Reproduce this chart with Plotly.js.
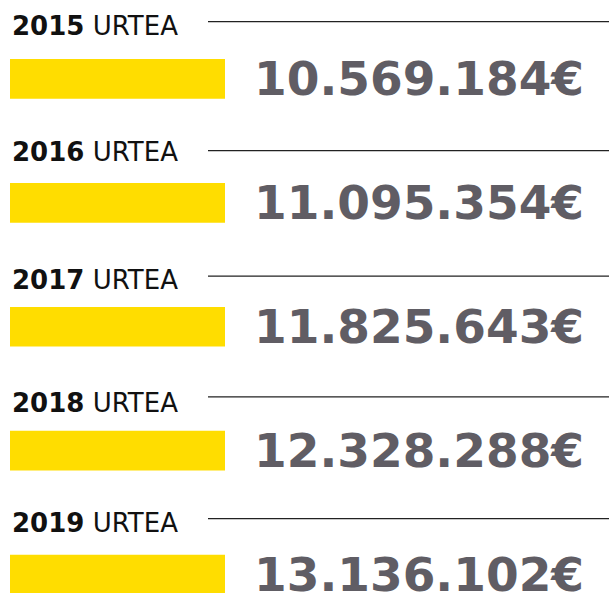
<!DOCTYPE html>
<html>
<head>
<meta charset="utf-8">
<script src="https://cdn.plot.ly/plotly-3.0.1.min.js"></script>
<style>html,body{margin:0;padding:0;background:#fff;}#chart{width:609px;height:593px;}</style>
</head>
<body>
<div id="chart"></div>
<script>
const years = ["2015", "2016", "2017", "2018", "2019"];
const yearSuffix = "URTEA";
const amounts = [10569184, 11095354, 11825643, 12328288, 13136102];
const barLengths = [1, 1, 1, 1, 1];
const currency = "€";

function fmt(n) {
  return String(n).replace(/\B(?=(\d{3})+(?!\d))/g, ".") + currency;
}

// layout-only pixel offsets (relative to each bar's centre)
const labelOffsetPx = [-53, -51, -47, -48, -52];
const lineOffsetPx = [-57.3, -52.3, -50.7, -53.7, -56];

const rowPx = 123.9;
const annotations = [];
const shapes = [];
years.forEach((yr, i) => {
  annotations.push({
    xref: "paper", yref: "y", x: 10 / 609, y: i + labelOffsetPx[i] / rowPx,
    xanchor: "left", yanchor: "middle", showarrow: false,
    text: "<b>" + yr + "</b> " + yearSuffix,
    font: {family: "DejaVu Sans", size: 26, color: "#111111"}
  });
  annotations.push({
    xref: "paper", yref: "y", x: 252 / 609, y: i,
    xanchor: "left", yanchor: "middle", showarrow: false,
    text: "<b>" + fmt(amounts[i]) + "</b>",
    font: {family: "DejaVu Sans", size: 47, color: "#605d64"}
  });
  shapes.push({
    type: "line", xref: "paper", yref: "y",
    x0: 208 / 609, x1: 1, y0: i + lineOffsetPx[i] / rowPx, y1: i + lineOffsetPx[i] / rowPx,
    line: {color: "#222222", width: 1.3}
  });
});

const data = [{
  type: "bar", orientation: "h",
  x: barLengths, y: years,
  width: 0.32,
  marker: {color: "#ffdd00"},
  hoverinfo: "skip"
}];

const layout = {
  width: 609, height: 593,
  margin: {l: 0, r: 0, t: 0, b: 0},
  paper_bgcolor: "#ffffff", plot_bgcolor: "#ffffff",
  showlegend: false,
  xaxis: {domain: [10 / 609, 225 / 609], range: [0, 1], visible: false, fixedrange: true},
  yaxis: {type: "category", range: [4.149, -0.637], visible: false, fixedrange: true},
  annotations: annotations,
  shapes: shapes
};

Plotly.newPlot("chart", data, layout, {displayModeBar: false, staticPlot: true});
</script>
</body>
</html>
